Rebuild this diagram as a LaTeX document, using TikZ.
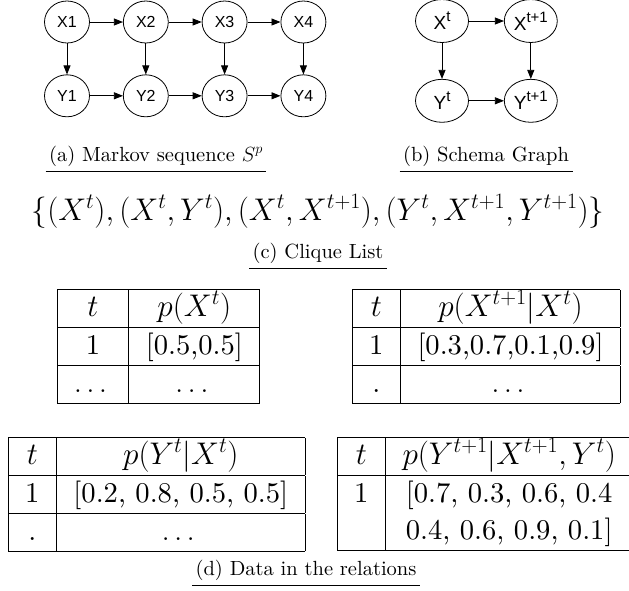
\RequirePackage{fix-cm}
\documentclass[tikz,border=0pt]{standalone}
\usepackage{fontspec}
\usepackage{amsmath}
\usepackage{tikz}
\usetikzlibrary{arrows.meta,positioning,shapes.geometric}
\setmainfont{lmroman10-regular.otf}
\newfontfamily\graphfont{Liberation Sans}
\newcommand{\sps}[1]{\raisebox{.42em}{\fontsize{15}{15}\selectfont #1}}
\newcommand{\tm}[1]{{\fontsize{31.3}{37}\selectfont$#1$}}
\setlength{\arrayrulewidth}{1pt}
\setlength{\tabcolsep}{17pt}

\begin{document}
\begin{tikzpicture}[x=1pt,y=-1pt,node distance=31pt and 33pt, gnode/.style={draw,ellipse,line width=.8pt,inner sep=0pt,minimum width=45pt,minimum height=42pt,font=\graphfont\fontsize{16}{19}\selectfont}, snode/.style={gnode,minimum width=53pt,minimum height=43pt,font=\graphfont\fontsize{19}{22}\selectfont}, arr/.style={-{Triangle[length=9pt,width=7pt]},line width=.8pt}, subcap/.style={anchor=base,font=\fontsize{20.5}{25}\selectfont}, uline/.style={line width=1pt}, tab/.style={anchor=north west,inner sep=0pt,font=\fontsize{28.6}{37}\selectfont}]
\useasboundingbox (0,0) rectangle (629,590);
% (a) sequence
\node[gnode] (x1) at (67,22) {X1}; \node[gnode,right=of x1] (x2) {X2}; \node[gnode,right=of x2] (x3) {X3}; \node[gnode,right=of x3] (x4) {X4};
\node[gnode,below=of x1] (y1) {Y1}; \node[gnode,below=of x2] (y2) {Y2}; \node[gnode,below=of x3] (y3) {Y3}; \node[gnode,below=of x4] (y4) {Y4};
\draw[arr] (x1)--(x2);\draw[arr](x2)--(x3);\draw[arr](x3)--(x4);\draw[arr](y1)--(y2);\draw[arr](y2)--(y3);\draw[arr](y3)--(y4);
\draw[arr] (x1)--(y1);\draw[arr](x2)--(y2);\draw[arr](x3)--(y3);\draw[arr](x4)--(y4);
% (b) schema
\node[snode] (xt) at (442,21) {X\sps{t}}; \node[snode,right=35pt of xt] (xt1) {X\sps{t+1}};
\node[snode,below=36pt of xt] (yt) {Y\sps{t}}; \node[snode,below=36pt of xt1] (yt1) {Y\sps{t+1}};
\draw[arr] (xt)--(xt1);\draw[arr](xt)--(yt);\draw[arr](xt1)--(yt1);\draw[arr](yt)--(yt1);
% captions and clique list
\node[subcap] (capa) at (156,161) {(a) Markov sequence $S^p$}; \node[subcap] (capb) at (486,161) {(b) Schema Graph};
\node[subcap,font=\fontsize{31.3}{36}\selectfont] (clq) at (318,220) {$\{(X^t),(X^t,Y^t),(X^t,X^{t+1}),(Y^t,X^{t+1},Y^{t+1})\}$};
\node[subcap] (capc) at (318,258) {(c) Clique List};
% relations
\node[tab] (tpx) at (57,289) {\begin{tabular}{|c|c|}\hline \tm{t} & \tm{p(X^t)}\\\hline 1 & [0.5,0.5]\\\hline $\dots$ & $\dots$\\\hline\end{tabular}};
\node[tab] (tpxx) at (352,289) {\begin{tabular}{|c|c|}\hline \tm{t} & \tm{p(X^{t+1}|X^t)}\\\hline 1 & [0.3,0.7,0.1,0.9]\\\hline . & $\dots$\\\hline\end{tabular}};
\node[tab] (tpyx) at (8,437) {\begin{tabular}{|c|c|}\hline \tm{t} & \tm{p(Y^t|X^t)}\\\hline 1 & [0.2, 0.8, 0.5, 0.5]\\\hline . & $\dots$\\\hline\end{tabular}};
\node[tab] (tpyy) at (337,437) {\begin{tabular}{|c|c|}\hline \tm{t} & \tm{p(Y^{t+1}|X^{t+1},Y^t)}\\\hline 1 & [0.7, 0.3, 0.6, 0.4\\ & 0.4, 0.6, 0.9, 0.1]\\\hline\end{tabular}};
\node[subcap] (capd) at (306,575) {(d) Data in the relations};
\foreach \c in {capa,capb,capc,capd} \draw[uline] ([yshift=-10pt]\c.base west)--([yshift=-10pt]\c.base east);
\end{tikzpicture}
\end{document}
